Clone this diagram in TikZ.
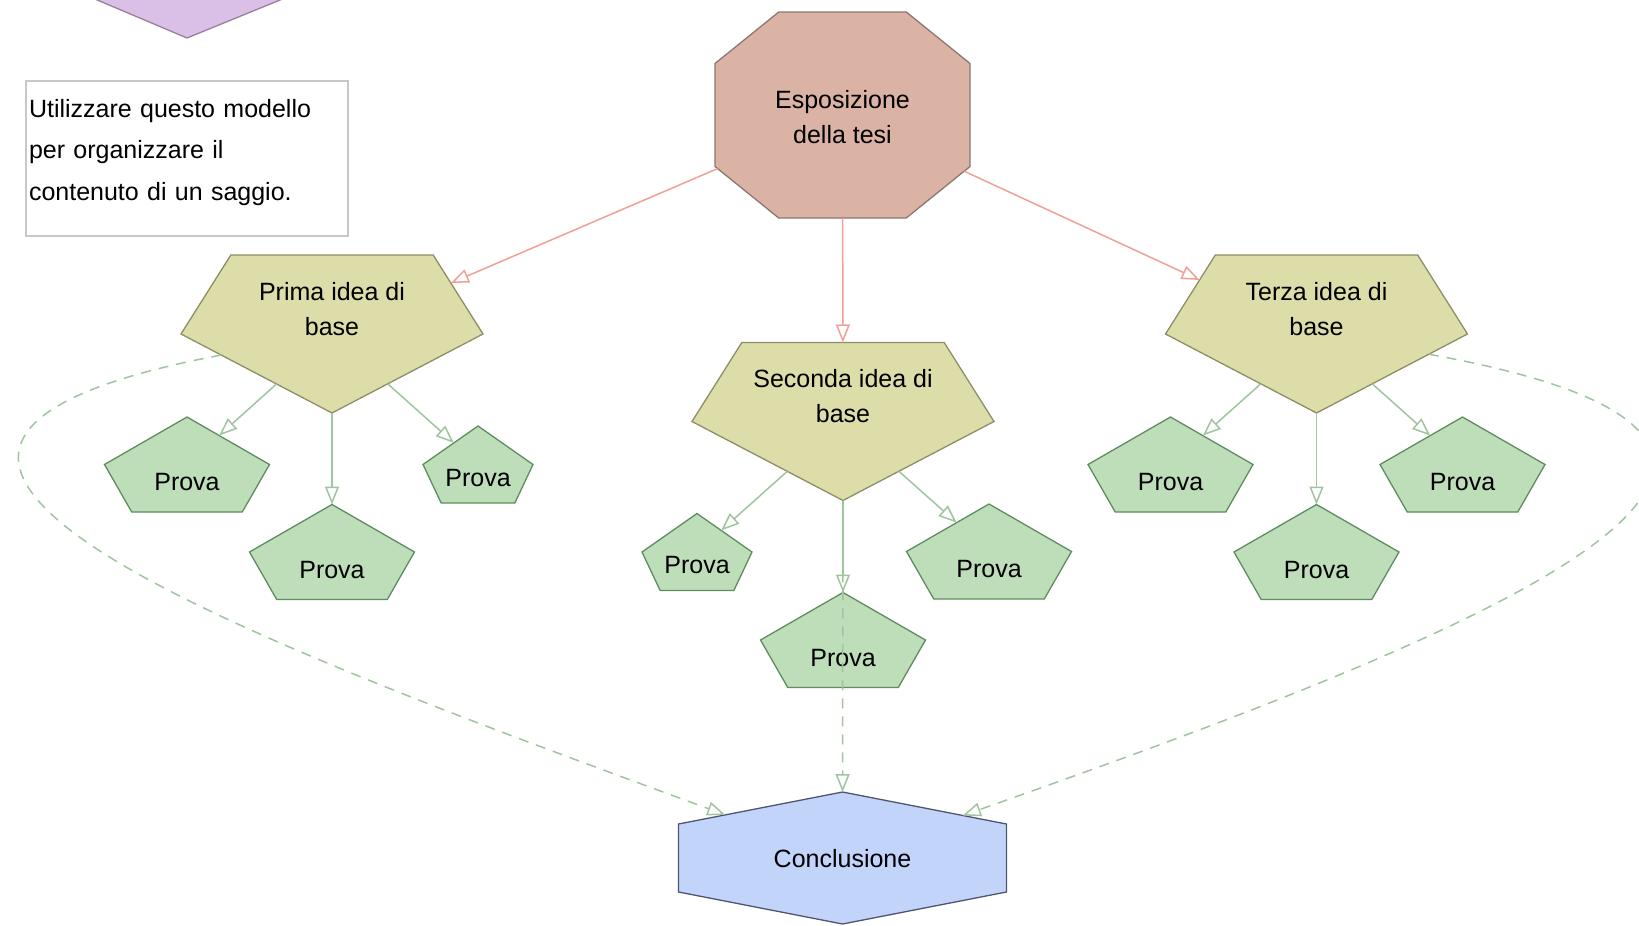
\documentclass[tikz,border=0pt]{standalone}
\usepackage{fontspec}
\setmainfont{Liberation Sans}
\usetikzlibrary{arrows.meta,positioning}

\definecolor{tesifill}{HTML}{DBB3A5}
\definecolor{tesidraw}{HTML}{8C7670}
\definecolor{ideafill}{HTML}{DDDDAA}
\definecolor{ideadraw}{HTML}{8F8D66}
\definecolor{provafill}{HTML}{BEDEBA}
\definecolor{provadraw}{HTML}{5F8C5F}
\definecolor{conclfill}{HTML}{C3D4FA}
\definecolor{concldraw}{HTML}{50556E}
\definecolor{lilafill}{HTML}{DAC0E6}
\definecolor{liladraw}{HTML}{97809F}
\definecolor{redline}{HTML}{F0A096}
\definecolor{greenline}{HTML}{A0C3A0}
\definecolor{notedraw}{HTML}{C8C8C8}

\makeatletter
% polygon shapes inside the min width x min height box
\newdimen\shpCx \newdimen\shpCy \newdimen\shpA \newdimen\shpB
\newdimen\shpDx \newdimen\shpDy
\def\shpgetbox{%
  \southwest\shpCx=\pgf@x\shpCy=\pgf@y%
  \northeast%
  \shpA=.5\pgf@x\advance\shpA by-.5\shpCx%
  \shpB=.5\pgf@y\advance\shpB by-.5\shpCy%
  \advance\shpCx by\shpA%
  \advance\shpCy by\shpB}
\def\shpvertex#1#2{\pgfqpoint{\dimexpr\shpCx+#1\shpA\relax}{\dimexpr\shpCy+#2\shpB\relax}}
% border point = centre + t*direction, t = 1/max(edge terms)
\def\shpborder#1{%
  \shpDx=\pgf@x\shpDy=\pgf@y%
  \shpgetbox%
  \pgfmathsetmacro\shpu{abs(\shpDx/\shpA)}%
  \pgfmathsetmacro\shpv{\shpDy/\shpB}%
  \pgfmathsetmacro\shpt{1/(#1)}%
  \pgf@x=\shpt\shpDx\advance\pgf@x by\shpCx%
  \pgf@y=\shpt\shpDy\advance\pgf@y by\shpCy}

\pgfdeclareshape{penta up}{%
  \inheritsavedanchors[from=rectangle]%
  \inheritanchor[from=rectangle]{center}%
  \inheritanchor[from=rectangle]{north}%
  \inheritanchor[from=rectangle]{south}%
  \inheritanchor[from=rectangle]{east}%
  \inheritanchor[from=rectangle]{west}%
  \anchorborder{\shpborder{max(\shpu+(\shpv),\shpu-0.33*(\shpv),-(\shpv))}}%
  \backgroundpath{\shpgetbox%
    \pgfpathmoveto{\shpvertex{0}{1}}\pgfpathlineto{\shpvertex{1}{0}}%
    \pgfpathlineto{\shpvertex{0.67}{-1}}\pgfpathlineto{\shpvertex{-0.67}{-1}}%
    \pgfpathlineto{\shpvertex{-1}{0}}\pgfpathclose}%
}
\pgfdeclareshape{penta down}{%
  \inheritsavedanchors[from=rectangle]%
  \inheritanchor[from=rectangle]{center}%
  \inheritanchor[from=rectangle]{north}%
  \inheritanchor[from=rectangle]{south}%
  \inheritanchor[from=rectangle]{east}%
  \inheritanchor[from=rectangle]{west}%
  \anchorborder{\shpborder{max(\shpu-(\shpv),\shpu+0.33*(\shpv),\shpv)}}%
  \backgroundpath{\shpgetbox%
    \pgfpathmoveto{\shpvertex{0}{-1}}\pgfpathlineto{\shpvertex{1}{0}}%
    \pgfpathlineto{\shpvertex{0.67}{1}}\pgfpathlineto{\shpvertex{-0.67}{1}}%
    \pgfpathlineto{\shpvertex{-1}{0}}\pgfpathclose}%
}
\pgfdeclareshape{octabox}{%
  \inheritsavedanchors[from=rectangle]%
  \inheritanchor[from=rectangle]{center}%
  \inheritanchor[from=rectangle]{north}%
  \inheritanchor[from=rectangle]{south}%
  \inheritanchor[from=rectangle]{east}%
  \inheritanchor[from=rectangle]{west}%
  \anchorborder{\shpborder{max(\shpu,abs(\shpv),(\shpu+abs(\shpv))/1.5)}}%
  \backgroundpath{\shpgetbox%
    \pgfpathmoveto{\shpvertex{0.5}{1}}\pgfpathlineto{\shpvertex{1}{0.5}}%
    \pgfpathlineto{\shpvertex{1}{-0.5}}\pgfpathlineto{\shpvertex{0.5}{-1}}%
    \pgfpathlineto{\shpvertex{-0.5}{-1}}\pgfpathlineto{\shpvertex{-1}{-0.5}}%
    \pgfpathlineto{\shpvertex{-1}{0.5}}\pgfpathlineto{\shpvertex{-0.5}{1}}%
    \pgfpathclose}%
}
\pgfdeclareshape{hexabox}{%
  \inheritsavedanchors[from=rectangle]%
  \inheritanchor[from=rectangle]{center}%
  \inheritanchor[from=rectangle]{north}%
  \inheritanchor[from=rectangle]{south}%
  \inheritanchor[from=rectangle]{east}%
  \inheritanchor[from=rectangle]{west}%
  \anchorborder{\shpborder{max(\shpu,0.485*\shpu+abs(\shpv))}}%
  \backgroundpath{\shpgetbox%
    \pgfpathmoveto{\shpvertex{0}{1}}\pgfpathlineto{\shpvertex{1}{0.515}}%
    \pgfpathlineto{\shpvertex{1}{-0.515}}\pgfpathlineto{\shpvertex{0}{-1}}%
    \pgfpathlineto{\shpvertex{-1}{-0.515}}\pgfpathlineto{\shpvertex{-1}{0.515}}%
    \pgfpathclose}%
}
\makeatother

\begin{document}
\begin{tikzpicture}[
  x=1pt,
  y=-1pt,
  on grid
]

  \tikzstyle{thesisnode}=[shape=octabox,draw=tesidraw,fill=tesifill,line width=1.3pt,minimum width=255pt,minimum height=206pt,inner sep=0pt,outer sep=0pt,align=center,font=\fontsize{25}{35}\selectfont,text height=56pt,text depth=0pt]
  \tikzstyle{ideanode}=[shape=penta down,draw=ideadraw,fill=ideafill,line width=1.3pt,minimum width=302pt,minimum height=158pt,inner sep=0pt,outer sep=0pt,align=center,font=\fontsize{25}{35}\selectfont,text height=2pt,text depth=0pt]
  \tikzstyle{provanode}=[shape=penta up,draw=provadraw,fill=provafill,line width=1.3pt,minimum width=165pt,minimum height=95pt,inner sep=0pt,outer sep=0pt,font=\fontsize{25}{35}\selectfont,text height=52pt,text depth=0pt]
  \tikzstyle{provanodesmall}=[provanode,minimum width=110pt,minimum height=77pt,text height=43pt]
  \tikzstyle{conclnode}=[shape=hexabox,draw=concldraw,fill=conclfill,line width=1.3pt,minimum width=328pt,minimum height=132pt,inner sep=0pt,outer sep=0pt,font=\fontsize{25}{35}\selectfont,text height=18pt,text depth=0pt]
  \tikzstyle{notenode}=[rectangle,draw=notedraw,fill=white,line width=1.3pt,anchor=north west,text width=316pt,inner xsep=3pt,inner ysep=0pt,outer sep=0pt,align=left,font=\fontsize{25}{41.5}\selectfont,text height=36pt,text depth=119pt]

  \tikzstyle{pointer}=[draw=redline,line width=1.5pt,-{Triangle[open,length=18pt,width=14pt]}]
  \tikzstyle{provaptr}=[draw=greenline,line width=1.5pt,-{Triangle[open,length=18pt,width=14pt]}]
  \tikzstyle{dashptr}=[provaptr,dash pattern=on 10pt off 8pt]

  \useasboundingbox (0,0) rectangle (1639,926);
  \clip (0,0) rectangle (1639,926);

  % shape cut off by the top border
  \draw[draw=liladraw,fill=lilafill,line width=1.3pt] (50,-20) -- (187,38) -- (329,-20) -- cycle;

  % nodes
  \node[notenode] (note) at (26,81) {Utilizzare questo modello\\per organizzare il\\contenuto di un saggio.};

  \node[thesisnode] (tesi) at (842.5,115) {Esposizione\\della tesi};

  \node[ideanode] (prima)   at (332,334)    {Prima idea di\\base};
  \node[ideanode] (seconda) at (843,421.5)  {Seconda idea di\\base};
  \node[ideanode] (terza)   at (1316.5,334) {Terza idea di\\base};

  \node[provanode]      (p1) [below left=130.5pt and 145pt of prima]  {Prova};
  \node[provanode]      (p2) [below=218pt of prima]                   {Prova};
  \node[provanodesmall] (p3) [below right=130.5pt and 146pt of prima] {Prova};

  \node[provanodesmall] (s1) [below left=130.5pt and 146pt of seconda]  {Prova};
  \node[provanode]      (s2) [below=218.5pt of seconda]                 {Prova};
  \node[provanode]      (s3) [below right=130pt and 146pt of seconda]   {Prova};

  \node[provanode] (t1) [below left=130.5pt and 146pt of terza]  {Prova};
  \node[provanode] (t2) [below=218pt of terza]                   {Prova};
  \node[provanode] (t3) [below right=130.5pt and 146pt of terza] {Prova};

  \node[conclnode] (concl) at (842.5,858) {Conclusione};

  % pointers
  \draw[pointer] (tesi) -- (prima);
  \draw[pointer] (tesi) -- (seconda);
  \draw[pointer] (tesi) -- (terza);

  \draw[provaptr] (prima) -- (p1);
  \draw[provaptr] (prima) -- (p2);
  \draw[provaptr] (prima) -- (p3);

  \draw[provaptr] (seconda) -- (s1);
  \draw[provaptr] (seconda) -- (s2);
  \draw[provaptr] (seconda) -- (s3);

  \draw[provaptr] (terza) -- (t1);
  \draw[provaptr] (terza) -- (t2);
  \draw[provaptr] (terza) -- (t3);

  \draw[dashptr] (prima) .. controls (-280,450) and (250,640) .. (concl);
  \draw[dashptr] (seconda) -- (concl);
  \draw[dashptr] (terza) .. controls (1960,450) and (1440,647) .. (concl);

\end{tikzpicture}
\end{document}
